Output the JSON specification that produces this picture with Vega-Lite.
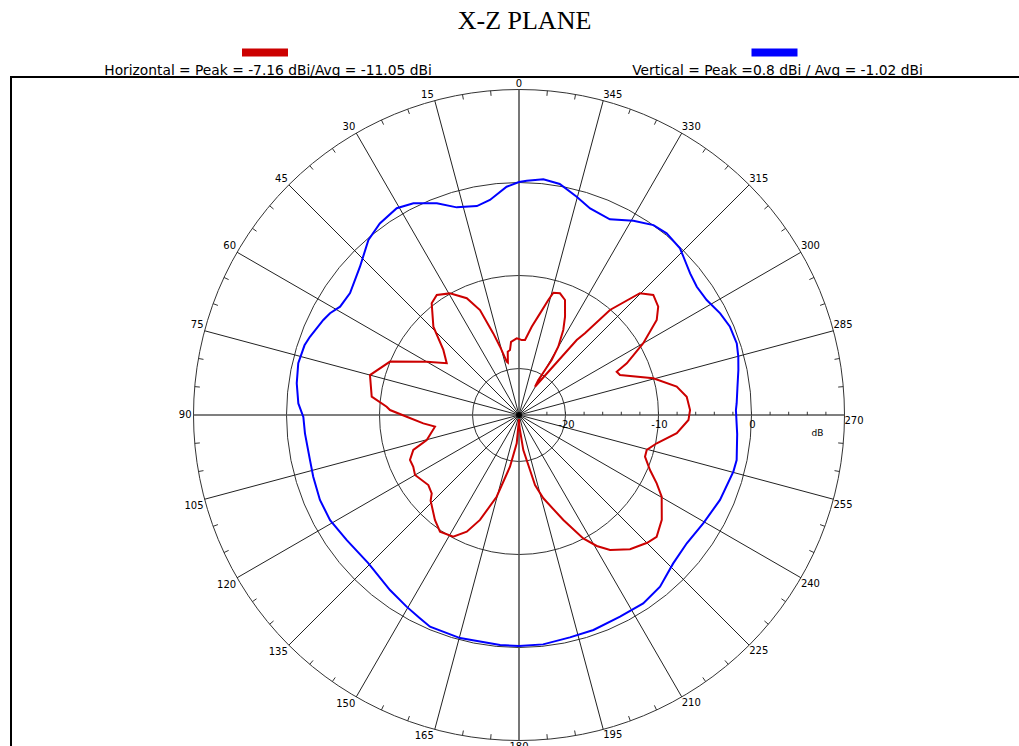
{
  "$schema": "https://vega.github.io/schema/vega-lite/v6.json",
  "width": 1019,
  "height": 680,
  "autosize": {"type": "none"},
  "padding": {"left": 11, "top": 77, "right": 0, "bottom": 0},
  "background": "white",
  "title": {"text": "X-Z PLANE", "font": "Liberation Serif", "fontSize": 26, "fontWeight": "normal", "color": "#000", "anchor": "middle", "offset": -11, "baseline": "alphabetic", "dx": 4},
  "config": {"view": {"stroke": "#000", "strokeWidth": 2}, "text": {"font": "DejaVu Sans", "fontSize": 10, "color": "#000"}},
  "datasets": {
    "pattern": [
      {"series":"Horizontal","angle":0,"dB":-16.83},{"series":"Horizontal","angle":1.7,"dB":-16.75},{"series":"Horizontal","angle":6.2,"dB":-17.08},{"series":"Horizontal","angle":7.9,"dB":-17.95},{"series":"Horizontal","angle":10.1,"dB":-18.09},{"series":"Horizontal","angle":12,"dB":-19.25},{"series":"Horizontal","angle":13,"dB":-19.12},{"series":"Horizontal","angle":15.5,"dB":-17.38},{"series":"Horizontal","angle":17.5,"dB":-15.8},{"series":"Horizontal","angle":20.4,"dB":-12.96},{"series":"Horizontal","angle":24.1,"dB":-11.25},{"series":"Horizontal","angle":29.6,"dB":-9.96},{"series":"Horizontal","angle":34.4,"dB":-9.35},{"series":"Horizontal","angle":38,"dB":-9.75},{"series":"Horizontal","angle":44.1,"dB":-11.77},{"series":"Horizontal","angle":49.3,"dB":-14.27},{"series":"Horizontal","angle":54.4,"dB":-15.44},{"series":"Horizontal","angle":60,"dB":-13.54},{"series":"Horizontal","angle":67.5,"dB":-9.99},{"series":"Horizontal","angle":75,"dB":-8.41},{"series":"Horizontal","angle":82.9,"dB":-9.04},{"series":"Horizontal","angle":86.4,"dB":-10.74},{"series":"Horizontal","angle":87.8,"dB":-11.12},{"series":"Horizontal","angle":90.9,"dB":-12.92},{"series":"Horizontal","angle":95,"dB":-14.67},{"series":"Horizontal","angle":97.9,"dB":-15.88},{"series":"Horizontal","angle":105.2,"dB":-14.72},{"series":"Horizontal","angle":108.3,"dB":-13.03},{"series":"Horizontal","angle":112.4,"dB":-12.32},{"series":"Horizontal","angle":116.1,"dB":-12.34},{"series":"Horizontal","angle":120,"dB":-12.09},{"series":"Horizontal","angle":127.7,"dB":-12.68},{"series":"Horizontal","angle":131.9,"dB":-12.39},{"series":"Horizontal","angle":134.1,"dB":-11.77},{"series":"Horizontal","angle":141.3,"dB":-10.54},{"series":"Horizontal","angle":145.9,"dB":-9.85},{"series":"Horizontal","angle":151.6,"dB":-10.13},{"series":"Horizontal","angle":155.9,"dB":-11.25},{"series":"Horizontal","angle":159.6,"dB":-12.96},{"series":"Horizontal","angle":164.7,"dB":-15.89},{"series":"Horizontal","angle":170.1,"dB":-19.35},{"series":"Horizontal","angle":175.4,"dB":-21.95},{"series":"Horizontal","angle":180,"dB":-24.57},{"series":"Horizontal","angle":182,"dB":-23.74},{"series":"Horizontal","angle":187,"dB":-21.2},{"series":"Horizontal","angle":191.3,"dB":-18.97},{"series":"Horizontal","angle":192.9,"dB":-17.28},{"series":"Horizontal","angle":196.3,"dB":-15.67},{"series":"Horizontal","angle":202.9,"dB":-12.74},{"series":"Horizontal","angle":207.5,"dB":-10.04},{"series":"Horizontal","angle":210.7,"dB":-8.62},{"series":"Horizontal","angle":214,"dB":-7.49},{"series":"Horizontal","angle":219.6,"dB":-6.27},{"series":"Horizontal","angle":225.1,"dB":-5.54},{"series":"Horizontal","angle":228.5,"dB":-5.24},{"series":"Horizontal","angle":233.7,"dB":-5.95},{"series":"Horizontal","angle":240.2,"dB":-7.32},{"series":"Horizontal","angle":243.6,"dB":-8.47},{"series":"Horizontal","angle":247.2,"dB":-9.72},{"series":"Horizontal","angle":251.7,"dB":-10.73},{"series":"Horizontal","angle":254.7,"dB":-10.76},{"series":"Horizontal","angle":258.4,"dB":-9.88},{"series":"Horizontal","angle":263.4,"dB":-7.92},{"series":"Horizontal","angle":268.3,"dB":-6.77},{"series":"Horizontal","angle":271.7,"dB":-6.6},{"series":"Horizontal","angle":276.2,"dB":-6.86},{"series":"Horizontal","angle":280.2,"dB":-7.77},{"series":"Horizontal","angle":285.3,"dB":-10.03},{"series":"Horizontal","angle":291.6,"dB":-13.32},{"series":"Horizontal","angle":293.9,"dB":-13.51},{"series":"Horizontal","angle":295.6,"dB":-12.15},{"series":"Horizontal","angle":300,"dB":-9.57},{"series":"Horizontal","angle":304.6,"dB":-7.01},{"series":"Horizontal","angle":307.9,"dB":-6.03},{"series":"Horizontal","angle":311.8,"dB":-5.63},{"series":"Horizontal","angle":315.2,"dB":-6.55},{"series":"Horizontal","angle":319.1,"dB":-10.06},{"series":"Horizontal","angle":321.1,"dB":-13.71},{"series":"Horizontal","angle":322.4,"dB":-14.83},{"series":"Horizontal","angle":330.5,"dB":-21.51},{"series":"Horizontal","angle":331.1,"dB":-20.7},{"series":"Horizontal","angle":330,"dB":-19.41},{"series":"Horizontal","angle":329.3,"dB":-18.12},{"series":"Horizontal","angle":330.1,"dB":-16.53},{"series":"Horizontal","angle":332.5,"dB":-14.69},{"series":"Horizontal","angle":334.9,"dB":-13.33},{"series":"Horizontal","angle":338.2,"dB":-11.68},{"series":"Horizontal","angle":341.4,"dB":-11.19},{"series":"Horizontal","angle":344.3,"dB":-11.34},{"series":"Horizontal","angle":345.7,"dB":-12.24},{"series":"Horizontal","angle":348.3,"dB":-13.84},{"series":"Horizontal","angle":351.8,"dB":-15.41},{"series":"Horizontal","angle":355.4,"dB":-16.91},{"series":"Horizontal","angle":357.9,"dB":-16.94},{"series":"Horizontal","angle":360,"dB":-16.83},
      {"series":"Vertical","angle":0,"dB":0.05},{"series":"Vertical","angle":3.1,"dB":-0.42},{"series":"Vertical","angle":7.7,"dB":-1.67},{"series":"Vertical","angle":11.4,"dB":-2.08},{"series":"Vertical","angle":16.7,"dB":-1.69},{"series":"Vertical","angle":21.2,"dB":-0.58},{"series":"Vertical","angle":26.5,"dB":0.44},{"series":"Vertical","angle":30.6,"dB":0.83},{"series":"Vertical","angle":36,"dB":0.46},{"series":"Vertical","angle":40.7,"dB":-0.17},{"series":"Vertical","angle":47,"dB":-1.62},{"series":"Vertical","angle":54.2,"dB":-2.6},{"series":"Vertical","angle":58.8,"dB":-2.51},{"series":"Vertical","angle":61.7,"dB":-1.92},{"series":"Vertical","angle":64.1,"dB":-1.61},{"series":"Vertical","angle":69.5,"dB":-1.0},{"series":"Vertical","angle":72,"dB":-0.75},{"series":"Vertical","angle":76.8,"dB":-0.62},{"series":"Vertical","angle":81.9,"dB":-0.86},{"series":"Vertical","angle":87,"dB":-1.24},{"series":"Vertical","angle":90.5,"dB":-1.81},{"series":"Vertical","angle":94.9,"dB":-1.9},{"series":"Vertical","angle":102.1,"dB":-2.01},{"series":"Vertical","angle":106.7,"dB":-1.9},{"series":"Vertical","angle":113.1,"dB":-1.73},{"series":"Vertical","angle":119.1,"dB":-1.75},{"series":"Vertical","angle":126,"dB":-2.11},{"series":"Vertical","angle":134.5,"dB":-2.27},{"series":"Vertical","angle":143.6,"dB":-1.62},{"series":"Vertical","angle":149.6,"dB":-1.11},{"series":"Vertical","angle":154,"dB":-0.69},{"series":"Vertical","angle":157.2,"dB":-0.31},{"series":"Vertical","angle":165.2,"dB":-0.19},{"series":"Vertical","angle":175.3,"dB":-0.18},{"series":"Vertical","angle":180,"dB":-0.16},{"series":"Vertical","angle":186,"dB":-0.2},{"series":"Vertical","angle":192.9,"dB":-0.47},{"series":"Vertical","angle":199.1,"dB":-0.54},{"series":"Vertical","angle":206.6,"dB":-0.74},{"series":"Vertical","angle":213.4,"dB":-0.74},{"series":"Vertical","angle":219.4,"dB":-1.11},{"series":"Vertical","angle":226.1,"dB":-1.99},{"series":"Vertical","angle":232.6,"dB":-2.29},{"series":"Vertical","angle":239.6,"dB":-2.01},{"series":"Vertical","angle":247.1,"dB":-1.54},{"series":"Vertical","angle":255.2,"dB":-1.16},{"series":"Vertical","angle":258.3,"dB":-1.1},{"series":"Vertical","angle":265,"dB":-1.45},{"series":"Vertical","angle":271.3,"dB":-1.67},{"series":"Vertical","angle":273.1,"dB":-1.56},{"series":"Vertical","angle":277,"dB":-1.34},{"series":"Vertical","angle":281.6,"dB":-0.92},{"series":"Vertical","angle":284.9,"dB":-0.6},{"series":"Vertical","angle":288.2,"dB":-0.35},{"series":"Vertical","angle":292.7,"dB":-0.41},{"series":"Vertical","angle":296.8,"dB":-0.77},{"series":"Vertical","angle":301.5,"dB":-1.33},{"series":"Vertical","angle":305.8,"dB":-1.43},{"series":"Vertical","angle":309.6,"dB":-1.12},{"series":"Vertical","angle":313.9,"dB":-0.46},{"series":"Vertical","angle":316,"dB":-0.08},{"series":"Vertical","angle":320.9,"dB":0.17},{"series":"Vertical","angle":324.7,"dB":0.02},{"series":"Vertical","angle":329.5,"dB":-0.76},{"series":"Vertical","angle":335.1,"dB":-1.8},{"series":"Vertical","angle":341,"dB":-1.51},{"series":"Vertical","angle":345.2,"dB":-0.72},{"series":"Vertical","angle":350,"dB":0.23},{"series":"Vertical","angle":354.1,"dB":0.48},{"series":"Vertical","angle":358.1,"dB":0.2},{"series":"Vertical","angle":360,"dB":0.05}
    ],
    "angles": [{"a":0},{"a":15},{"a":30},{"a":45},{"a":60},{"a":75},{"a":90},{"a":105},{"a":120},{"a":135},{"a":150},{"a":165},{"a":180},{"a":195},{"a":210},{"a":225},{"a":240},{"a":255},{"a":270},{"a":285},{"a":300},{"a":315},{"a":330},{"a":345}],
    "minor": [{"a":5},{"a":10},{"a":20},{"a":25},{"a":35},{"a":40},{"a":50},{"a":55},{"a":65},{"a":70},{"a":80},{"a":85},{"a":95},{"a":100},{"a":110},{"a":115},{"a":125},{"a":130},{"a":140},{"a":145},{"a":155},{"a":160},{"a":170},{"a":175},{"a":185},{"a":190},{"a":200},{"a":205},{"a":215},{"a":220},{"a":230},{"a":235},{"a":245},{"a":250},{"a":260},{"a":265},{"a":275},{"a":280},{"a":290},{"a":295},{"a":305},{"a":310},{"a":320},{"a":325},{"a":335},{"a":340},{"a":350},{"a":355}],
    "rings": [{"v":-20},{"v":-10},{"v":0},{"v":10}],
    "dbticks": [{"v":-22},{"v":-20},{"v":-18},{"v":-16},{"v":-14},{"v":-12},{"v":-10},{"v":-8},{"v":-6},{"v":-4},{"v":-2},{"v":0},{"v":2},{"v":4},{"v":6},{"v":8}],
    "rlabels": [{"v":-20,"label":"-20"},{"v":-10,"label":"-10"},{"v":0,"label":"0"}]
  },
  "encoding": {
    "x": {"field": "x", "type": "quantitative", "scale": {"domain": [-54.6237, 54.9462], "nice": false, "zero": false}, "axis": null},
    "y": {"field": "y", "type": "quantitative", "scale": {"domain": [-36.7742, 36.3441], "nice": false, "zero": false}, "axis": null}
  },
  "layer": [
    {
      "data": {"name": "rings"},
      "transform": [
        {"calculate": "datum.v + 25", "as": "r"},
        {"calculate": "0", "as": "x"},
        {"calculate": "0", "as": "y"}
      ],
      "mark": {"type": "point", "shape": "circle", "filled": false, "stroke": "#333", "strokeWidth": 1, "opacity": 1},
      "encoding": {
        "size": {"field": "r", "type": "quantitative", "scale": {"type": "pow", "exponent": 2, "domain": [0, 35], "range": [0, 423801]}, "legend": null}
      }
    },
    {
      "data": {"name": "angles"},
      "transform": [
        {"filter": "datum.a % 90 != 0"},
        {"calculate": "-35*sin(datum.a*PI/180)", "as": "xe"},
        {"calculate": "35*cos(datum.a*PI/180)", "as": "ye"},
        {"calculate": "0", "as": "x"},
        {"calculate": "0", "as": "y"}
      ],
      "mark": {"type": "rule", "stroke": "#222", "strokeWidth": 1},
      "encoding": {
        "x2": {"field": "xe"},
        "y2": {"field": "ye"}
      }
    },
    {
      "data": {"name": "angles"},
      "transform": [
        {"filter": "datum.a % 90 == 0"},
        {"calculate": "-35*sin(datum.a*PI/180)", "as": "xe"},
        {"calculate": "35*cos(datum.a*PI/180)", "as": "ye"},
        {"calculate": "0", "as": "x"},
        {"calculate": "0", "as": "y"}
      ],
      "mark": {"type": "rule", "stroke": "#555", "strokeWidth": 1.6},
      "encoding": {
        "x2": {"field": "xe"},
        "y2": {"field": "ye"}
      }
    },
    {
      "data": {"name": "minor"},
      "transform": [
        {"calculate": "-35*sin(datum.a*PI/180)", "as": "x"},
        {"calculate": "35*cos(datum.a*PI/180)", "as": "y"},
        {"calculate": "-34.45*sin(datum.a*PI/180)", "as": "xe"},
        {"calculate": "34.45*cos(datum.a*PI/180)", "as": "ye"}
      ],
      "mark": {"type": "rule", "stroke": "#333", "strokeWidth": 1},
      "encoding": {
        "x2": {"field": "xe"},
        "y2": {"field": "ye"}
      }
    },
    {
      "data": {"name": "dbticks"},
      "transform": [
        {"calculate": "datum.v + 25", "as": "x"},
        {"calculate": "0", "as": "y"},
        {"calculate": "0.35", "as": "ye"}
      ],
      "mark": {"type": "rule", "stroke": "#333", "strokeWidth": 1},
      "encoding": {
        "y2": {"field": "ye"}
      }
    },
    {
      "data": {"name": "pattern"},
      "transform": [
        {"window": [{"op": "row_number", "as": "i"}], "groupby": ["series"]},
        {"calculate": "-(datum.dB + 25)*sin(datum.angle*PI/180)", "as": "x"},
        {"calculate": "(datum.dB + 25)*cos(datum.angle*PI/180)", "as": "y"}
      ],
      "mark": {"type": "line", "strokeWidth": 2},
      "encoding": {
        "order": {"field": "i", "type": "quantitative"},
        "color": {
          "field": "series", "type": "nominal",
          "scale": {"domain": ["Horizontal", "Vertical"], "range": ["#cc0000", "#0000ff"]},
          "legend": {
            "orient": "none", "legendX": 227, "legendY": -33.5,
            "direction": "horizontal", "title": null, "padding": 0,
            "columnPadding": 199.5,
            "symbolType": "M-1,-0.783H1", "symbolSize": 2116, "symbolStrokeWidth": 8, "symbolOpacity": 1,
            "labelAlign": "center", "labelOffset": -24, "labelLimit": 0,
            "labelFont": "DejaVu Sans", "labelFontSize": 13.8, "labelColor": "#000",
            "labelExpr": "datum.label == 'Horizontal' ? 'Horizontal = Peak = -7.16 dBi/Avg = -11.05 dBi' : 'Vertical = Peak =0.8 dBi / Avg = -1.02 dBi'"
          }
        }
      }
    },
    {
      "data": {"values": [{"center": -25}]},
      "transform": [
        {"calculate": "0", "as": "x"},
        {"calculate": "0", "as": "y"}
      ],
      "mark": {"type": "point", "shape": "diamond", "filled": true, "color": "#000", "size": 50, "opacity": 1}
    },
    {
      "data": {"name": "angles"},
      "transform": [
        {"filter": "datum.a > 0 && datum.a < 90"},
        {"calculate": "-35*sin(datum.a*PI/180)", "as": "x"},
        {"calculate": "35*cos(datum.a*PI/180)", "as": "y"}
      ],
      "mark": {"type": "text", "align": "right", "baseline": "bottom", "dx": -1, "dy": -1},
      "encoding": {"text": {"field": "a", "type": "quantitative"}}
    },
    {
      "data": {"name": "angles"},
      "transform": [
        {"filter": "datum.a == 90"},
        {"calculate": "-35*sin(datum.a*PI/180)", "as": "x"},
        {"calculate": "35*cos(datum.a*PI/180)", "as": "y"}
      ],
      "mark": {"type": "text", "align": "right", "baseline": "middle", "dx": -2},
      "encoding": {"text": {"field": "a", "type": "quantitative"}}
    },
    {
      "data": {"name": "angles"},
      "transform": [
        {"filter": "datum.a > 90 && datum.a < 180"},
        {"calculate": "-35*sin(datum.a*PI/180)", "as": "x"},
        {"calculate": "35*cos(datum.a*PI/180)", "as": "y"}
      ],
      "mark": {"type": "text", "align": "right", "baseline": "top", "dx": -1, "dy": 2},
      "encoding": {"text": {"field": "a", "type": "quantitative"}}
    },
    {
      "data": {"name": "angles"},
      "transform": [
        {"filter": "datum.a == 0"},
        {"calculate": "-35*sin(datum.a*PI/180)", "as": "x"},
        {"calculate": "35*cos(datum.a*PI/180)", "as": "y"}
      ],
      "mark": {"type": "text", "align": "center", "baseline": "bottom", "dy": -1},
      "encoding": {"text": {"field": "a", "type": "quantitative"}}
    },
    {
      "data": {"name": "angles"},
      "transform": [
        {"filter": "datum.a == 180"},
        {"calculate": "-35*sin(datum.a*PI/180)", "as": "x"},
        {"calculate": "35*cos(datum.a*PI/180)", "as": "y"}
      ],
      "mark": {"type": "text", "align": "center", "baseline": "top", "dy": 2},
      "encoding": {"text": {"field": "a", "type": "quantitative"}}
    },
    {
      "data": {"name": "angles"},
      "transform": [
        {"filter": "datum.a > 180 && datum.a <= 270"},
        {"calculate": "-35*sin(datum.a*PI/180)", "as": "x"},
        {"calculate": "35*cos(datum.a*PI/180)", "as": "y"}
      ],
      "mark": {"type": "text", "align": "left", "baseline": "top", "dx": 0, "dy": 1},
      "encoding": {"text": {"field": "a", "type": "quantitative"}}
    },
    {
      "data": {"name": "angles"},
      "transform": [
        {"filter": "datum.a > 270"},
        {"calculate": "-35*sin(datum.a*PI/180)", "as": "x"},
        {"calculate": "35*cos(datum.a*PI/180)", "as": "y"}
      ],
      "mark": {"type": "text", "align": "left", "baseline": "bottom", "dx": 0, "dy": -1},
      "encoding": {"text": {"field": "a", "type": "quantitative"}}
    },
    {
      "data": {"name": "rlabels"},
      "transform": [
        {"calculate": "datum.v + 25", "as": "x"},
        {"calculate": "0", "as": "y"}
      ],
      "mark": {"type": "text", "align": "center", "baseline": "top", "dx": 1, "dy": 5},
      "encoding": {
        "text": {"field": "label", "type": "nominal"}
      }
    },
    {
      "data": {"values": [{"unit": "dB", "v": 7.1}]},
      "transform": [
        {"calculate": "datum.v + 25", "as": "x"},
        {"calculate": "0", "as": "y"}
      ],
      "mark": {"type": "text", "align": "center", "baseline": "top", "dy": 14, "fontSize": 9},
      "encoding": {
        "text": {"field": "unit", "type": "nominal"}
      }
    }
  ]
}
